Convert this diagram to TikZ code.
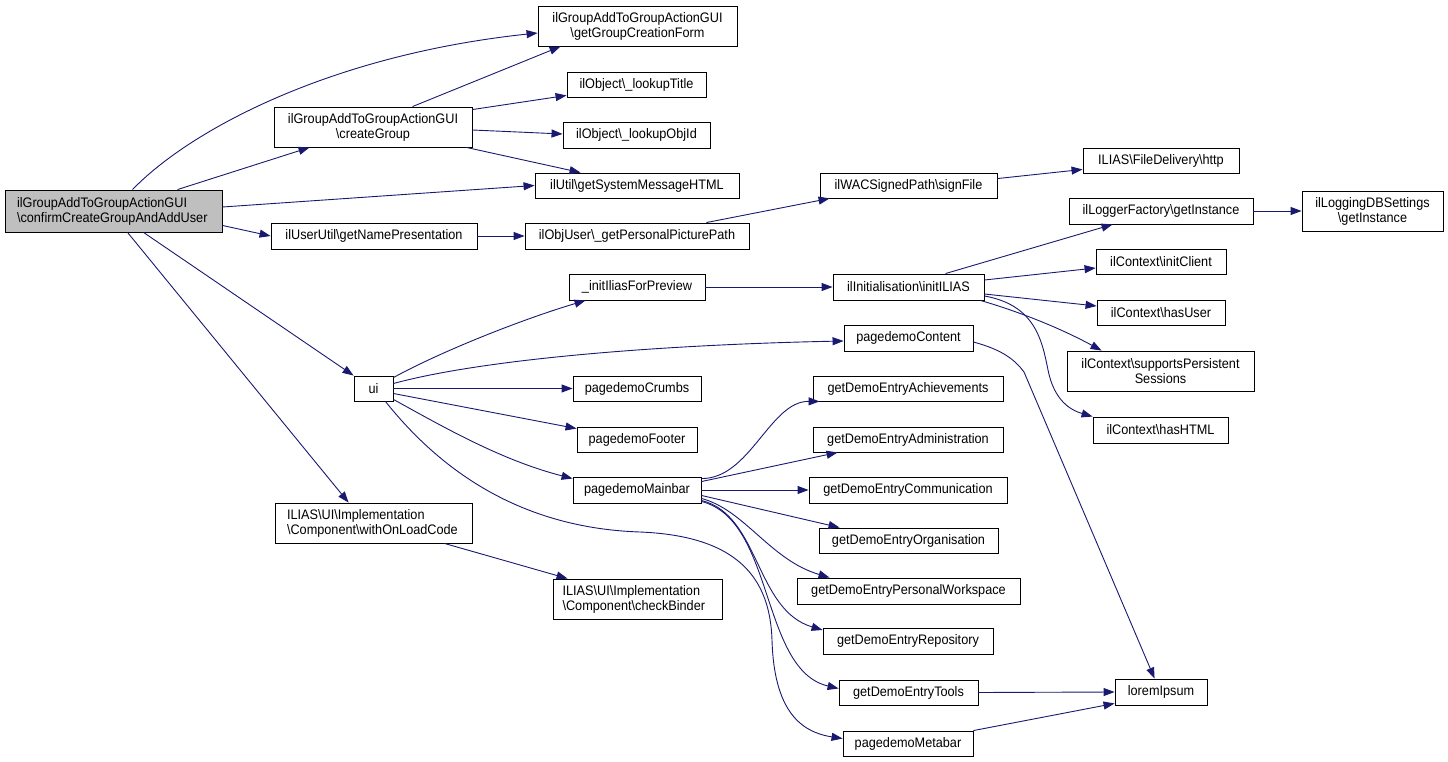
\documentclass[tikz,border=0pt]{standalone}
\usepackage{fontspec}
\setmainfont{Liberation Sans}[FakeStretch=0.92]
\usetikzlibrary{arrows.meta,calc}
\definecolor{midnight}{HTML}{191970}
\definecolor{mainfill}{HTML}{BFBFBF}
\newcommand\nd[6][]{\node[box,#1,minimum width=#4pt,minimum height=#5pt] (#2) at (#3) {#6};}
\newcommand\bs{\textbackslash}
\begin{document}
\begin{tikzpicture}[x=1pt,y=-1pt,
  box/.style={draw=black,line width=0.9pt,inner sep=0pt,align=center,font=\fontsize{13.8}{15}\selectfont},
  lbox/.style={align=left,text width=#1},
  edge/.style={draw=midnight,line width=0.9pt,-{Triangle[length=11pt,width=8pt]},fill=none},
]
\useasboundingbox (0,0) rectangle (1448,762);
% nodes
\nd[fill=mainfill,lbox=193pt]{main}{113.5,211}{217}{42}{ilGroupAddToGroupActionGUI\\\bs confirmCreateGroupAndAddUser}
\nd{gcf}{637.5,26}{199}{40}{ilGroupAddToGroupActionGUI\\\bs getGroupCreationForm}
\nd{cg}{373,127}{198}{40}{ilGroupAddToGroupActionGUI\\\bs createGroup}
\nd{lt}{636.5,84.5}{139}{25}{ilObject\bs\_lookupTitle}
\nd{loi}{636.5,135}{147}{26}{ilObject\bs\_lookupObjId}
\nd{gsm}{637,185.5}{204}{25}{ilUtil\bs getSystemMessageHTML}
\nd{gnp}{374,236}{206}{26}{ilUserUtil\bs getNamePresentation}
\nd{gpp}{637,236}{224}{26}{ilObjUser\bs\_getPersonalPicturePath}
\nd{sf}{908.5,185.5}{177}{25}{ilWACSignedPath\bs signFile}
\nd{fdh}{1161,160.5}{156}{25}{ILIAS\bs FileDelivery\bs http}
\nd{lf}{1161,211}{184}{26}{ilLoggerFactory\bs getInstance}
\nd{ldb}{1372.5,211}{141}{40}{ilLoggingDBSettings\\\bs getInstance}
\nd{iip}{637,287}{136}{26}{\_initIliasForPreview}
\nd{ii}{908.5,287}{151}{26}{ilInitialisation\bs initILIAS}
\nd{ic}{1161,261.5}{130}{25}{ilContext\bs initClient}
\nd{hu}{1161,312.5}{128}{25}{ilContext\bs hasUser}
\nd{sps}{1160.5,371}{187}{40}{ilContext\bs supportsPersistent\\Sessions}
\nd{hh}{1160.5,430}{135}{26}{ilContext\bs hasHTML}
\nd{pc}{908.5,338}{129}{26}{pagedemoContent}
\nd{ui}{373.5,388.5}{39}{25}{ui}
\nd{pcr}{637,388.5}{128}{25}{pagedemoCrumbs}
\nd{pf}{637,439.5}{120}{25}{pagedemoFooter}
\nd{pm}{637,490}{128}{26}{pagedemoMainbar}
\nd{ach}{908,388.5}{190}{25}{getDemoEntryAchievements}
\nd{adm}{908,439.5}{190}{25}{getDemoEntryAdministration}
\nd{com}{908,490}{198}{26}{getDemoEntryCommunication}
\nd{org}{908.5,540.5}{179}{25}{getDemoEntryOrganisation}
\nd{pws}{908.5,591}{223}{26}{getDemoEntryPersonalWorkspace}
\nd{rep}{908,641}{170}{26}{getDemoEntryRepository}
\nd{tools}{908.5,692.5}{139}{25}{getDemoEntryTools}
\nd{meta}{908,743.5}{130}{25}{pagedemoMetabar}
\nd{lorem}{1161,692}{92}{26}{loremIpsum}
\nd[lbox=173pt]{wol}{373.5,523}{197}{40}{ILIAS\bs UI\bs Implementation\\\bs Component\bs withOnLoadCode}
\nd[lbox=150pt]{cb}{637.5,599}{169}{40}{ILIAS\bs UI\bs Implementation\\\bs Component\bs checkBinder}
% edges from main
\draw[edge] ($(main.north west)+(128,0)$) .. controls (190,130) and (330,55) .. ($(gcf.west)+(0,7)$);
\draw[edge] ($(main.north west)+(173,0)$) -- ($(cg.south west)+(36,0)$);
\draw[edge] ($(main.east)+(0,-4)$) -- (gsm.west);
\draw[edge] ($(main.south east)+(0,-7)$) -- (gnp.west);
\draw[edge] ($(main.south west)+(139,0)$) -- (ui.north west);
\draw[edge] ($(main.south west)+(123,0)$) -- ($(wol.north west)+(74,0)$);
% createGroup
\draw[edge] ($(cg.north west)+(139,0)$) -- ($(gcf.south west)+(23,0)$);
\draw[edge] ($(cg.north east)+(0,3)$) -- ($(lt.south west)+(0,-2)$);
\draw[edge] ($(cg.east)+(0,3)$) -- ($(loi.west)+(0,-1)$);
\draw[edge] ($(cg.south east)+(-6,0)$) -- ($(gsm.north west)+(46,0)$);
% name presentation chain
\draw[edge] (gnp.east) -- (gpp.west);
\draw[edge] ($(gpp.north east)+(-43,0)$) -- ($(sf.south west)+(10,0)$);
\draw[edge] ($(sf.north east)+(0,6)$) -- ($(fdh.south west)+(0,-4)$);
% ui
\draw[edge] ($(ui.north east)+(0,2)$) .. controls (440,352) and (520,320) .. ($(iip.south west)+(17,0)$);
\draw[edge] ($(ui.east)+(0,-5)$) .. controls (480,360) and (650,345) .. ($(pc.west)+(0,3)$);
\draw[edge] (ui.east) -- (pcr.west);
\draw[edge] ($(ui.east)+(0,5)$) -- ($(pf.north west)+(0,2)$);
\draw[edge] ($(ui.south east)+(0,-2)$) .. controls (440,425) and (500,460) .. ($(pm.north west)+(0,2)$);
\draw[edge] ($(ui.south east)+(-8,0)$) .. controls (440,470) and (520,528) .. (640,532)
   .. controls (740,536) and (770,580) .. (772,640)
   .. controls (774,710) and (800,732) .. ($(meta.west)+(0,-5)$);
% init
\draw[edge] (iip.east) -- (ii.west);
\draw[edge] ($(ii.north west)+(113,0)$) -- ($(lf.south west)+(44,0)$);
\draw[edge] ($(ii.east)+(0,-7)$) -- ($(ic.west)+(0,6.5)$);
\draw[edge] ($(ii.east)+(0,7)$) -- ($(hu.west)+(0,-6.5)$);
\draw[edge] ($(ii.south east)+(-4,0)$) .. controls (1020,312) and (1060,328) .. ($(sps.north west)+(35,0)$);
\draw[edge] ($(ii.east)+(0,9)$) .. controls (1035,305) and (1042,340) .. (1048,370)
   .. controls (1054,400) and (1070,410) .. (hh.north west);
\draw[edge] (lf.east) -- (ldb.west);
\draw[edge] ($(pc.east)+(0,4)$) .. controls (1003,350) and (1015,360) .. (1024,372) -- ($(lorem.north west)+(40,0)$);
% mainbar
\draw[edge] ($(pm.north east)+(0,2)$) .. controls (750,479) and (770,401) .. ($(ach.south west)+(7,0)$);
\draw[edge] ($(pm.north east)+(0,5)$) -- ($(adm.south west)+(25,0)$);
\draw[edge] (pm.east) -- (com.west);
\draw[edge] ($(pm.south east)+(0,-8)$) -- ($(org.north west)+(21,0)$);
\draw[edge] ($(pm.south east)+(0,-5)$) .. controls (745,510) and (770,560) .. ($(pws.north west)+(33,0)$);
\draw[edge] ($(pm.south east)+(0,-3)$) .. controls (760,515) and (755,610) .. ($(rep.west)+(0,-11)$);
\draw[edge] ($(pm.south east)+(0,-2)$) .. controls (775,520) and (760,670) .. ($(tools.west)+(0,-4)$);
\draw[edge] (tools.east) -- (lorem.west);
\draw[edge] (meta.north east) -- ($(lorem.south west)+(0,-2)$);
\draw[edge] ($(wol.south west)+(170,0)$) -- ($(cb.north west)+(15,0)$);
\end{tikzpicture}
\end{document}
